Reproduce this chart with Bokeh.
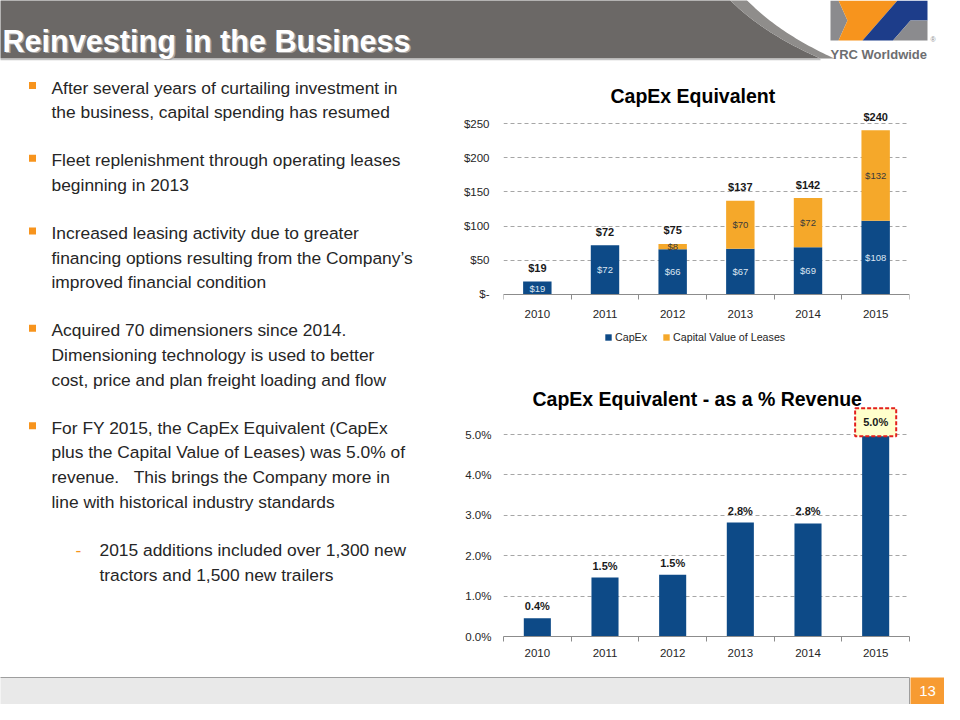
import numpy as np
from bokeh.plotting import figure
from bokeh.models import Range1d, FixedTicker, Legend, LegendItem, ColumnDataSource, PrintfTickFormatter
from bokeh.layouts import column, row
from bokeh.embed import file_html
from bokeh.resources import INLINE
from bokeh.core.properties import value

# ---------------- data ----------------
years = ["2010", "2011", "2012", "2013", "2014", "2015"]
capex = [19, 72, 66, 67, 69, 108]
leases = [0, 0, 8, 70, 72, 132]
total_labels = ["$19", "$72", "$75", "$137", "$142", "$240"]
capex_ticks = [0, 50, 100, 150, 200, 250]
capex_tick_labels = ["$-", "$50", "$100", "$150", "$200", "$250"]

pct_of_revenue = [0.45, 1.46, 1.53, 2.82, 2.80, 4.98]
pct_labels = ["0.4%", "1.5%", "1.5%", "2.8%", "2.8%", "5.0%"]
pct_ticks = [0, 1, 2, 3, 4, 5]

title_text = "Reinvesting in the Business"
chart1_title = "CapEx Equivalent"
chart2_title = "CapEx Equivalent - as a % Revenue"
series_names = ["CapEx", "Capital Value of Leases"]
bullets = [
    ["After several years of curtailing investment in",
     "the business, capital spending has resumed"],
    ["Fleet replenishment through operating leases",
     "beginning in 2013"],
    ["Increased leasing activity due to greater",
     "financing options resulting from the Company\u2019s",
     "improved financial condition"],
    ["Acquired 70 dimensioners since 2014.",
     "Dimensioning technology is used to better",
     "cost, price and plan freight loading and flow"],
    ["For FY 2015, the CapEx Equivalent (CapEx",
     "plus the Capital Value of Leases) was 5.0% of",
     "revenue.\u00a0\u00a0\u00a0This brings the Company more in",
     "line with historical industry standards"],
]
sub_bullet = ["2015 additions included over 1,300 new",
              "tractors and 1,500 new trailers"]
logo_text = "YRC Worldwide"
page_number = "13"

# ---------------- styles ----------------
FONT = "Liberation Sans"
BLUE = "#0d4a87"
ORANGE = "#f5a82a"
BULLET_ORANGE = "#f7941d"
TEXT = "#262626"
GRID = "#a6a6a6"
AXIS = "#8c8c8c"


def deco_fig(w, h, x0, x1, y0, y1):
    p = figure(width=w, height=h, x_range=Range1d(x0, x1), y_range=Range1d(y1, y0),
               output_backend="svg", toolbar_location=None,
               x_axis_location=None, y_axis_location=None, min_border=0)
    p.outline_line_color = None
    p.grid.visible = False
    p.background_fill_color = "white"
    p.border_fill_color = "white"
    return p


def qbez(p0, p1, p2, n=40):
    t = np.linspace(0, 1, n)
    x = (1 - t) ** 2 * p0[0] + 2 * (1 - t) * t * p1[0] + t ** 2 * p2[0]
    y = (1 - t) ** 2 * p0[1] + 2 * (1 - t) * t * p1[1] + t ** 2 * p2[1]
    return list(x), list(y)


# ---------------- header ----------------
hdr = deco_fig(944, 64, 8, 952, 8, 72)
ix, iy = qbez((733, 3), (768, 40), (828, 66))
ox, oy = qbez((750, 3), (784, 40), (842, 66))
hdr.patch([0] + ix + [0], [3] + iy + [66], fill_color="#6b6866", line_color=None)
hdr.patch(ix + ox[::-1], iy + oy[::-1], fill_color="#8f8d8b", line_color=None)
hdr.line([0, 828], [67, 67], line_color="#c4c4c4", line_width=1.5)
hdr.text(x=[11.5], y=[49.5], text=[title_text], text_font=value(FONT), text_font_style="bold",
         text_font_size="30.6px", text_color="#a8a6a5", text_baseline="alphabetic")
hdr.text(x=[10], y=[48], text=[title_text], text_font=value(FONT), text_font_style="bold",
         text_font_size="30.6px", text_color="white", text_baseline="alphabetic")
# logo
hdr.patch([838, 846, 855, 846, 838], [8, 8, 28, 48, 48], fill_color="#8b8b8e", line_color=None)
hdr.patch([846, 905, 870, 846, 855], [8, 8, 48, 48, 28], fill_color=BULLET_ORANGE, line_color=None)
hdr.patch([905, 935, 935, 918, 900.5, 870], [8, 8, 28, 28, 48, 48], fill_color="#1d3d8a", line_color=None)
hdr.patch([918, 935, 935, 900.5], [28, 28, 48, 48], fill_color="#8b8b8e", line_color=None)
hdr.text(x=[838], y=[62], text=[logo_text], text_font=value(FONT), text_font_style="bold",
         text_font_size="13px", text_color="#6d6e70", text_baseline="alphabetic")
hdr.text(x=[938], y=[47], text=["\u00ae"], text_font=value(FONT),
         text_font_size="7px", text_color="#8b8b8e", text_baseline="alphabetic")

# ---------------- bullet text ----------------
tf = deco_fig(452, 600, 8, 460, 72, 672)
pitch = 24.7
gap = 48.0
y = 95.0
bx, by, lx, ly, lt = [], [], [], [], []
for lines in bullets:
    bx.append(40)
    by.append(y - 2)
    for i, line in enumerate(lines):
        lx.append(59)
        ly.append(y + i * pitch)
        lt.append(line)
    y = y + (len(lines) - 1) * pitch + gap
sub_y = y
for i, line in enumerate(sub_bullet):
    lx.append(107)
    ly.append(sub_y + i * pitch)
    lt.append(line)
tf.scatter(bx, by, marker="square", size=7, fill_color=BULLET_ORANGE, line_color=None)
tf.text(x=[86], y=[sub_y], text=["-"], text_font=value(FONT), text_font_size="17.4px",
        text_color=BULLET_ORANGE, text_align="center", text_baseline="middle")
tf.text(x=lx, y=ly, text=lt, text_font=value(FONT), text_font_size="17.4px",
        text_color=TEXT, text_baseline="middle")


def style_axes(p, y_ticks, xstandoff, ystandoff):
    n = len(years)
    p.xaxis.ticker = FixedTicker(ticks=list(range(n)), minor_ticks=[i - 0.5 for i in range(n + 1)])
    p.xaxis.major_label_overrides = {i: yr for i, yr in enumerate(years)}
    p.xaxis.axis_line_color = AXIS
    p.xaxis.major_tick_out = 0
    p.xaxis.major_tick_in = 0
    p.xaxis.minor_tick_out = 5
    p.xaxis.minor_tick_in = 0
    p.xaxis.minor_tick_line_color = AXIS
    p.xaxis.major_label_standoff = xstandoff
    p.yaxis.ticker = FixedTicker(ticks=y_ticks)
    p.yaxis.axis_line_color = None
    p.yaxis.major_tick_line_color = None
    p.yaxis.minor_tick_line_color = None
    p.yaxis.major_tick_out = 0
    p.yaxis.major_label_standoff = ystandoff
    for ax in (p.xaxis, p.yaxis):
        ax.major_label_text_font = FONT
        ax.major_label_text_font_size = "11.5px"
        ax.major_label_text_color = TEXT
    p.xgrid.visible = False
    p.ygrid.ticker = FixedTicker(ticks=y_ticks)
    p.ygrid.grid_line_color = GRID
    p.ygrid.grid_line_dash = "4 3"
    p.outline_line_color = None
    p.title.text_font = FONT
    p.title.text_font_size = "19.5px"
    p.title.text_font_style = "bold"
    p.title.text_color = "black"
    p.title.align = "left"


# ---------------- chart 1 ----------------
n = len(years)
xi = list(range(n))
tops = [c + l for c, l in zip(capex, leases)]
src1 = ColumnDataSource(dict(x=xi, capex=capex, leases=leases, top=tops, total=total_labels,
                             clbl=["$%d" % v for v in capex], cmid=[v / 2 for v in capex]))
lidx = [i for i in xi if leases[i] > 0]
src1l = ColumnDataSource(dict(x=lidx, lbl=["$%d" % leases[i] for i in lidx],
                              mid=[capex[i] + leases[i] / 2 for i in lidx]))

# frame spans the plot and the legend row below the axis; the x axis is pinned at 0
p1 = figure(width=492, height=303, x_range=Range1d(-0.5, n - 0.5), y_range=Range1d(-84.8, 273.4),
            output_backend="svg", toolbar_location=None, title=chart1_title,
            min_border_left=51, min_border_right=26, min_border_top=43, min_border_bottom=15)
rs = p1.vbar_stack(["capex", "leases"], x="x", width=0.42, fill_color=[BLUE, ORANGE],
                   line_color=None, source=src1)
p1.text(x="x", y="cmid", text="clbl", source=src1, text_font=value(FONT), text_font_size="9.5px",
        text_color="#dce6f2", text_align="center", text_baseline="middle")
p1.text(x="x", y="mid", text="lbl", source=src1l, text_font=value(FONT), text_font_size="9.5px",
        text_color="#3a3a3a", text_align="center", text_baseline="middle")
p1.text(x="x", y="top", text="total", source=src1, y_offset=-13.5, text_font=value(FONT),
        text_font_size="11px", text_font_style="bold", text_color="#1a1a1a",
        text_align="center", text_baseline="middle")
style_axes(p1, capex_ticks, 11, 14)
p1.xaxis.fixed_location = 0
p1.yaxis.major_label_overrides = {t: l for t, l in zip(capex_ticks, capex_tick_labels)}
p1.title.offset = 107
p1.title.standoff = 1
legend = Legend(items=[LegendItem(label=series_names[0], renderers=[rs[0]]),
                       LegendItem(label=series_names[1], renderers=[rs[1]])],
                orientation="horizontal", location=(101, 9), glyph_width=8, glyph_height=8,
                label_text_font=FONT, label_text_font_size="10.7px", label_text_color=TEXT,
                label_height=12, label_width=10, spacing=15, label_standoff=3,
                border_line_color=None, background_fill_alpha=0, padding=0, margin=0)
p1.add_layout(legend)

# ---------------- chart 2 ----------------
hi = int(np.argmax(pct_of_revenue))
src2 = ColumnDataSource(dict(x=[i for i in xi if i != hi],
                             v=[pct_of_revenue[i] for i in xi if i != hi],
                             lbl=[pct_labels[i] for i in xi if i != hi]))
src2h = ColumnDataSource(dict(x=[hi], v=[pct_of_revenue[hi]], lbl=[pct_labels[hi]]))
src2b = ColumnDataSource(dict(x=xi, v=pct_of_revenue))
p2 = figure(width=492, height=297, x_range=Range1d(-0.5, n - 0.5), y_range=Range1d(0, 5.743),
            output_backend="svg", toolbar_location=None, title=chart2_title,
            min_border_left=36, min_border_right=35, min_border_top=37, min_border_bottom=28)
p2.vbar(x="x", top="v", width=0.4, fill_color=BLUE, line_color=None, source=src2b)
p2.text(x="x", y="v", text="lbl", source=src2, y_offset=-12, text_font=value(FONT),
        text_font_size="11px", text_font_style="bold", text_color="#1a1a1a",
        text_align="center", text_baseline="middle")
p2.text(x="x", y="v", text="lbl", source=src2h, y_offset=-13, text_font=value(FONT),
        text_font_size="11px", text_font_style="bold", text_color="#1a1a1a",
        text_align="center", text_baseline="middle",
        background_fill_color="#ffffcc", border_line_color="#e3201c", border_line_width=2,
        border_line_dash="4 2", padding=(8, 8, 8, 8))
style_axes(p2, pct_ticks, 7, 12)
p2.yaxis.formatter = PrintfTickFormatter(format="%.1f%%")
p2.title.offset = 29
p2.title.standoff = -11

# ---------------- footer ----------------
ftr = deco_fig(944, 40, 8, 952, 672, 712)
ftr.quad(left=[1], right=[917], top=[685], bottom=[718], fill_color="#e9e9e9",
         line_color="#9e9e9e", line_width=1)
ftr.quad(left=[918], right=[958], top=[685], bottom=[718], fill_color="#f79b32", line_color=None)
ftr.text(x=[935], y=[698], text=[page_number], text_font=value(FONT), text_font_size="15px",
         text_color="white", text_align="center", text_baseline="middle")

page = column(hdr, row(tf, column(p1, p2, spacing=0), spacing=0), ftr, spacing=0)
open("out.html", "w").write(file_html(page, INLINE, title="Reinvesting in the Business"))
